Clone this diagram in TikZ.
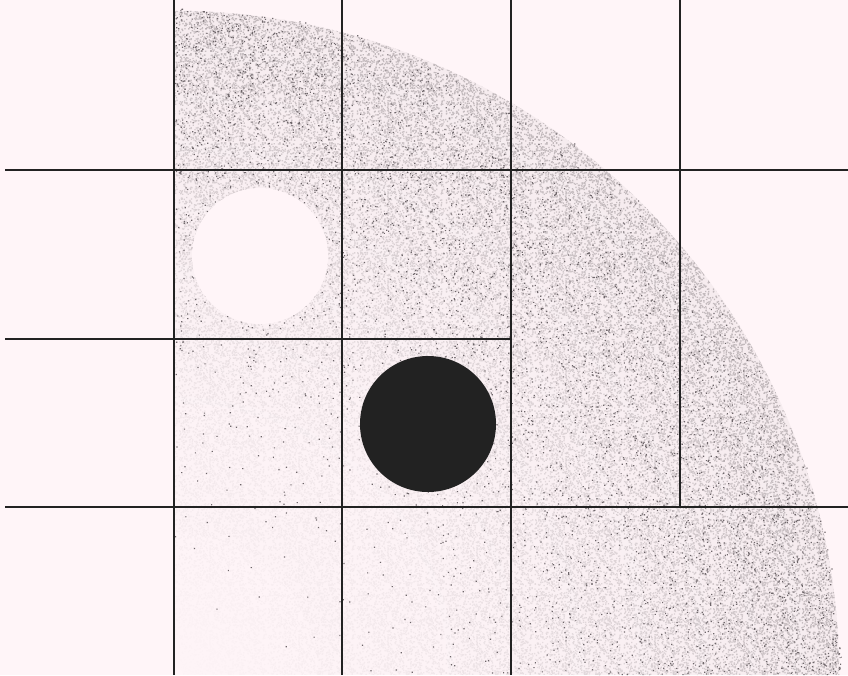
\documentclass[tikz,border=0pt]{standalone}
\usetikzlibrary{patterns,fadings}
\definecolor{paper}{RGB}{255,245,248}
\definecolor{ink}{RGB}{34,34,34}
\definecolor{speck}{RGB}{110,102,106}
\definecolor{speckm}{RGB}{90,83,86}
\definecolor{speckl}{RGB}{130,122,126}
\definecolor{toneedge}{RGB}{228,219,222}
\pgfmathsetseed{11}
\pgfdeclarepatternformonly{grainA}{\pgfpointorigin}{\pgfpoint{80pt}{80pt}}{\pgfpoint{80pt}{80pt}}{%
  \foreach \k in {1,...,3200}{%
    \pgfpathrectangle{\pgfpoint{78.9pt*rnd}{78.9pt*rnd}}{\pgfpoint{1.1pt}{1.1pt}}%
    \pgfusepath{fill}}}
\pgfdeclarepatternformonly{grainB}{\pgfpointorigin}{\pgfpoint{67pt}{67pt}}{\pgfpoint{67pt}{67pt}}{%
  \foreach \k in {1,...,1600}{%
    \pgfpathrectangle{\pgfpoint{66pt*rnd}{66pt*rnd}}{\pgfpoint{1pt}{1pt}}%
    \pgfusepath{fill}}}
\pgfdeclareradialshading{grainmask}{\pgfpointorigin}{color(0bp)=(black); color(5bp)=(black!93!white); color(10bp)=(black!77!white); color(15bp)=(black!55!white); color(20bp)=(black!28!white); color(25bp)=(white); color(50bp)=(white)}
\pgfdeclarefading{grainfade}{\tikz \shade [shading=grainmask] (-50bp,-50bp) rectangle (50bp,50bp);}
\tikzset{every picture/.style={line width=0.75pt}}
\tikzset{gridline/.style={color=ink, line width=1.5}}

\begin{document}
\begin{tikzpicture}[x=0.75pt,y=0.75pt,yscale=-1,xscale=1]
\useasboundingbox (0,0) rectangle (848,675);
\fill [paper] (0,0) rectangle (848,675);

% grainy quarter disc
\begin{scope}
\clip (175,675) -- (842,675) arc [start angle=0, end angle=-90, radius=667] -- cycle;
\fill [toneedge, path fading=grainfade, fit fading=true] (175,675) circle (667);
\fill [pattern=grainA, pattern color=speckl, path fading=grainfade, fit fading=true] (175,675) circle (667);
\fill [pattern=grainB, pattern color=speckm, path fading=grainfade, fit fading=true] (175,675) circle (667);
\pgfmathsetseed{42}
\foreach \c in {1,2}
  \fill [speck, shift={(175,675)}] \foreach \k in {1,...,2500} { ({-90*rnd}:{667*pow(rnd,0.2857)}) rectangle ++(1.2,1.2) };
\end{scope}

\fill [paper] (260,256) circle (68);
\fill [ink] (428,424) circle (68);

\draw [gridline] (174,0) -- (174,675);
\draw [gridline] (342,0) -- (342,675);
\draw [gridline] (511,0) -- (511,675);
\draw [gridline] (680,0) -- (680,507);
\draw [gridline] (5,170) -- (848,170);
\draw [gridline] (5,339) -- (511,339);
\draw [gridline] (5,507) -- (848,507);
\end{tikzpicture}
\end{document}
